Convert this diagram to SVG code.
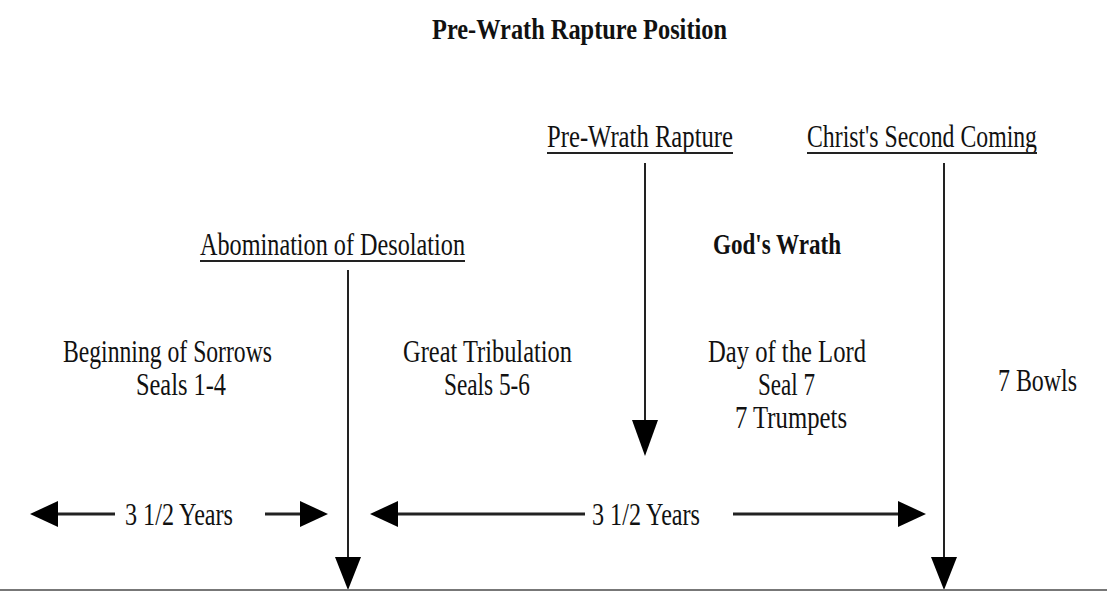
<svg xmlns="http://www.w3.org/2000/svg" width="1107" height="592" viewBox="0 0 1107 592">
<style>
text{font-family:"Liberation Serif","Times New Roman",serif;fill:#111;}
.t{font-size:32px;text-anchor:middle;}
.b{font-weight:bold;}
.ul{stroke:#222;stroke-width:2;}
.shaft{stroke:#222;stroke-width:2;fill:none;}
.hl{stroke:#222;stroke-width:3;fill:none;}
.head{fill:#000;}
</style>
<rect width="1107" height="592" fill="#fff"/>
<g id="title"><text x="579.5" y="39" class="b" style="font-size:30px" text-anchor="middle" textLength="295" lengthAdjust="spacingAndGlyphs">Pre-Wrath Rapture Position</text></g>
<g id="pre-wrath-rapture">
<text x="640" y="147" class="t" textLength="186" lengthAdjust="spacingAndGlyphs">Pre-Wrath Rapture</text>
<line class="ul" x1="547" y1="153" x2="733" y2="153"/>
</g>
<g id="christs-second-coming">
<text x="922" y="147" class="t" textLength="230" lengthAdjust="spacingAndGlyphs">Christ's Second Coming</text>
<line class="ul" x1="807" y1="153" x2="1037" y2="153"/>
</g>
<g id="abomination">
<text x="332.5" y="255" class="t" textLength="265" lengthAdjust="spacingAndGlyphs">Abomination of Desolation</text>
<line class="ul" x1="200" y1="261" x2="465" y2="261"/>
</g>
<g id="gods-wrath"><text x="777" y="254" class="t b" style="font-size:30px" textLength="128" lengthAdjust="spacingAndGlyphs">God's Wrath</text></g>
<g id="beginning-of-sorrows">
<text x="167.5" y="362" class="t" textLength="209" lengthAdjust="spacingAndGlyphs">Beginning of Sorrows</text>
<text x="181" y="395" class="t" textLength="90" lengthAdjust="spacingAndGlyphs">Seals 1-4</text>
</g>
<g id="great-tribulation">
<text x="487.5" y="362" class="t" textLength="169" lengthAdjust="spacingAndGlyphs">Great Tribulation</text>
<text x="487" y="395" class="t" textLength="86" lengthAdjust="spacingAndGlyphs">Seals 5-6</text>
</g>
<g id="day-of-the-lord">
<text x="787" y="362" class="t" textLength="158" lengthAdjust="spacingAndGlyphs">Day of the Lord</text>
<text x="786.5" y="395" class="t" textLength="57" lengthAdjust="spacingAndGlyphs">Seal 7</text>
<text x="791" y="428" class="t" textLength="112" lengthAdjust="spacingAndGlyphs">7 Trumpets</text>
</g>
<g id="seven-bowls"><text x="1037.5" y="391" class="t" textLength="79" lengthAdjust="spacingAndGlyphs">7 Bowls</text></g>
<g id="years-1"><text x="179" y="525" class="t" textLength="108" lengthAdjust="spacingAndGlyphs">3 1/2 Years</text></g>
<g id="years-2"><text x="646" y="525" class="t" textLength="108" lengthAdjust="spacingAndGlyphs">3 1/2 Years</text></g>
<g id="connectors">
<line class="shaft" x1="348" y1="270" x2="348" y2="562"/>
<polygon class="head" points="335,557 361,557 348,590"/>
<line class="shaft" x1="645" y1="163" x2="645" y2="425"/>
<polygon class="head" points="632,420 658,420 645,456"/>
<line class="shaft" x1="944" y1="163" x2="944" y2="562"/>
<polygon class="head" points="931,557 957,557 944,590"/>
<line class="hl" x1="56" y1="514" x2="115" y2="514"/>
<polygon class="head" points="30,514 58,501 58,527"/>
<line class="hl" x1="265" y1="514" x2="302" y2="514"/>
<polygon class="head" points="328,514 300,501 300,527"/>
<line class="hl" x1="396" y1="514" x2="585" y2="514"/>
<polygon class="head" points="370,514 398,501 398,527"/>
<line class="hl" x1="733" y1="514" x2="902" y2="514"/>
<polygon class="head" points="926,514 898,501 898,527"/>
<line x1="0" y1="590" x2="1107" y2="590" stroke="#777" stroke-width="2"/>
</g>
</svg>
